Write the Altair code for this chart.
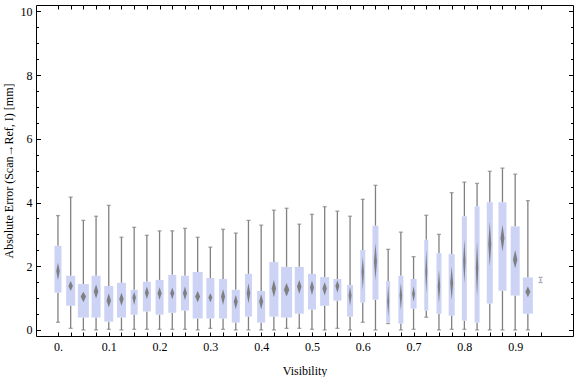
import altair as alt
import pandas as pd

# ---------------- data ----------------
visibility = [0.0, 0.025, 0.05, 0.075, 0.1, 0.125, 0.15, 0.175, 0.2, 0.225,
              0.25, 0.275, 0.3, 0.325, 0.35, 0.375, 0.4, 0.425, 0.45, 0.475,
              0.5, 0.525, 0.55, 0.575, 0.6, 0.625, 0.65, 0.675, 0.7, 0.725,
              0.75, 0.775, 0.8, 0.825, 0.85, 0.875, 0.9, 0.925, 0.95]
whisker_hi = [3.59, 4.17, 3.44, 3.57, 3.91, 2.91, 3.22, 2.97, 3.11, 3.11,
              3.19, 2.91, 2.60, 3.16, 3.04, 3.44, 3.29, 3.76, 3.82, 3.32,
              3.63, 3.87, 3.73, 3.57, 4.10, 4.54, 2.53, 3.07, 2.30, 3.60,
              3.00, 4.31, 4.64, 4.60, 4.98, 5.08, 4.89, 4.06, 1.65]
q3 = [2.64, 1.70, 1.44, 1.70, 1.38, 1.48, 1.26, 1.51, 1.57, 1.73,
      1.70, 1.82, 1.63, 1.60, 1.26, 1.76, 1.22, 2.13, 1.98, 1.98,
      1.76, 1.66, 1.60, 1.41, 2.51, 3.27, 1.54, 1.70, 1.60, 2.83,
      2.41, 2.38, 3.57, 3.88, 4.01, 4.01, 3.25, 1.65, 1.64]
median = [1.85, 1.38, 1.05, 1.21, 0.92, 0.97, 1.02, 1.17, 1.15, 1.15,
          1.15, 1.05, 1.02, 1.05, 0.89, 1.15, 0.89, 1.30, 1.26, 1.36,
          1.33, 1.30, 1.38, 1.08, 1.83, 2.15, 0.89, 1.08, 1.13, 1.83,
          1.36, 1.47, 2.15, 1.94, 2.69, 2.88, 2.20, 1.20, 1.57]
q1 = [1.17, 0.76, 0.39, 0.39, 0.26, 0.39, 0.48, 0.58, 0.48, 0.54,
      0.61, 0.36, 0.36, 0.36, 0.23, 0.42, 0.23, 0.42, 0.39, 0.51,
      0.64, 0.76, 0.92, 0.42, 0.86, 0.95, 0.23, 0.20, 0.67, 0.61,
      0.51, 0.45, 0.29, 0.23, 0.83, 1.23, 1.08, 0.51, 1.50]
whisker_lo = [0.24, 0.05, 0.00, 0.00, 0.02, 0.00, 0.02, 0.02, 0.02, 0.02,
              0.02, 0.00, 0.05, 0.02, 0.00, 0.00, 0.00, 0.00, 0.05, 0.05,
              0.02, 0.00, 0.05, 0.00, 0.24, 0.00, 0.20, 0.00, 0.02, 0.40,
              0.00, 0.02, 0.02, 0.00, 0.00, 0.00, 0.00, 0.00, 1.49]
notch_hi = [2.11, 1.54, 1.20, 1.43, 1.15, 1.17, 1.20, 1.36, 1.34, 1.33,
            1.36, 1.22, 1.15, 1.28, 1.10, 1.47, 1.13, 1.57, 1.47, 1.57,
            1.55, 1.50, 1.55, 1.36, 2.30, 2.72, 1.41, 1.47, 1.36, 2.51,
            1.88, 1.99, 2.83, 2.77, 3.40, 3.30, 2.51, 1.36, 1.60]
notch_lo = [1.57, 1.22, 0.87, 0.99, 0.71, 0.76, 0.78, 0.97, 0.95, 0.96,
            0.94, 0.87, 0.87, 0.78, 0.65, 0.84, 0.65, 1.03, 1.05, 1.13,
            1.10, 1.08, 1.17, 0.76, 1.26, 1.57, 0.42, 0.63, 0.89, 1.15,
            0.84, 0.94, 1.47, 1.05, 1.99, 2.46, 1.94, 1.03, 1.54]
# relative sample counts (drive the box widths)
samples = [70, 90, 110, 90, 90, 90, 70, 80, 80, 80,
           80, 100, 80, 80, 80, 70, 80, 90, 110, 90,
           80, 90, 80, 60, 50, 60, 40, 50, 60, 40,
           50, 60, 50, 50, 60, 80, 90, 100, 20]
x_labels = [0.0, 0.1, 0.2, 0.3, 0.4, 0.5, 0.6, 0.7, 0.8, 0.9]
y_labels = [0, 2, 4, 6, 8, 10]
y_minor = [v / 2 for v in range(0, 21)]

# ---------------- layout ----------------
W, H = 537, 331
XMIN, XMAX = -0.0334, 1.004
YMIN, YMAX = -0.19, 10.2
MAX_W = 11  # px width of the widest box
px_per_unit = W / (XMAX - XMIN)

df = pd.DataFrame({
    "k": list(range(len(visibility))),
    "vis": visibility, "hi": whisker_hi, "q3": q3, "med": median,
    "q1": q1, "lo": whisker_lo, "n": samples,
})

rows = []
for i, v in enumerate(visibility):
    hw = samples[i] / max(samples) * MAX_W * 0.25 / px_per_unit
    rows.append({"k": i, "x": v - hw, "top": median[i], "bot": median[i]})
    rows.append({"k": i, "x": v, "top": notch_hi[i], "bot": notch_lo[i]})
    rows.append({"k": i, "x": v + hw, "top": median[i], "bot": median[i]})
dia = pd.DataFrame(rows)

xs = alt.Scale(domain=[XMIN, XMAX], nice=False, zero=False)
ys = alt.Scale(domain=[YMIN, YMAX], nice=False, zero=False)

GRAY = "#808080"
BOX = "#ccd3f5"

def tick_axis(orient, values, size):
    return alt.Axis(orient=orient, values=values, labels=False, domain=False,
                    ticks=True, tickSize=size, offset=-size, title=None,
                    grid=False, tickColor="black", tickWidth=1)

x_label_axis = alt.Axis(orient="bottom", values=x_labels, domain=False, ticks=False,
                        grid=False, labelPadding=5, titlePadding=13,
                        labelExpr="datum.value == 0 ? '0.' : format(datum.value, '.1f')",
                        title="Visibility")
y_label_axis = alt.Axis(orient="left", values=y_labels, domain=False, ticks=False,
                        grid=False, labelPadding=4, titlePadding=5,
                        title="Absolute Error (Scan\u2192Ref, I) [mm]")

base = alt.Chart(df)

lower = base.mark_rule(color=GRAY, strokeWidth=1.3).encode(
    x=alt.X("vis:Q", scale=xs, axis=x_label_axis),
    y=alt.Y("lo:Q", scale=ys, axis=y_label_axis),
    y2="q1:Q",
)
upper = base.mark_rule(color=GRAY, strokeWidth=1.3).encode(
    x=alt.X("vis:Q", scale=xs, axis=tick_axis("bottom", visibility, 4)),
    y=alt.Y("q3:Q", scale=ys, axis=tick_axis("left", y_labels, 4.5)),
    y2="hi:Q",
)
caps = base.transform_fold(["lo", "hi"], as_=["end", "val"]).mark_tick(
    color=GRAY, orient="horizontal", size=4, thickness=1.3
).encode(
    x=alt.X("vis:Q", scale=xs, axis=tick_axis("top", visibility, 4)),
    y=alt.Y("val:Q", scale=ys, axis=tick_axis("left", y_minor, 2.5)),
)
boxes = base.mark_bar(color=BOX, opacity=1).encode(
    x=alt.X("vis:Q", scale=xs, axis=None),
    y=alt.Y("q3:Q", scale=ys, axis=tick_axis("right", y_labels, 4.5)),
    y2="q1:Q",
    size=alt.Size("n:Q", scale=alt.Scale(domain=[0, max(samples)], range=[0, MAX_W]),
                  legend=None),
)
diamonds = alt.Chart(dia).mark_area(color="#7a7a7a", opacity=0.95).encode(
    x=alt.X("x:Q", scale=xs, axis=None),
    y=alt.Y("top:Q", scale=ys, axis=tick_axis("right", y_minor, 2.5)),
    y2="bot:Q",
    detail="k:N",
)

chart = alt.layer(lower, upper, caps, boxes, diamonds).resolve_axis(
    x="independent", y="independent"
).properties(
    width=W, height=H, autosize="none",
    padding={"left": 36, "top": 5, "right": 3, "bottom": 41},
).configure_view(stroke="black", strokeWidth=1).configure_axis(
    labelFont="Liberation Serif", labelFontSize=12, labelColor="black",
    titleFont="Liberation Serif", titleFontSize=12, titleFontWeight="normal",
    titleColor="black",
)

chart.save("out.html", embed_options={"renderer": "svg", "actions": False})
